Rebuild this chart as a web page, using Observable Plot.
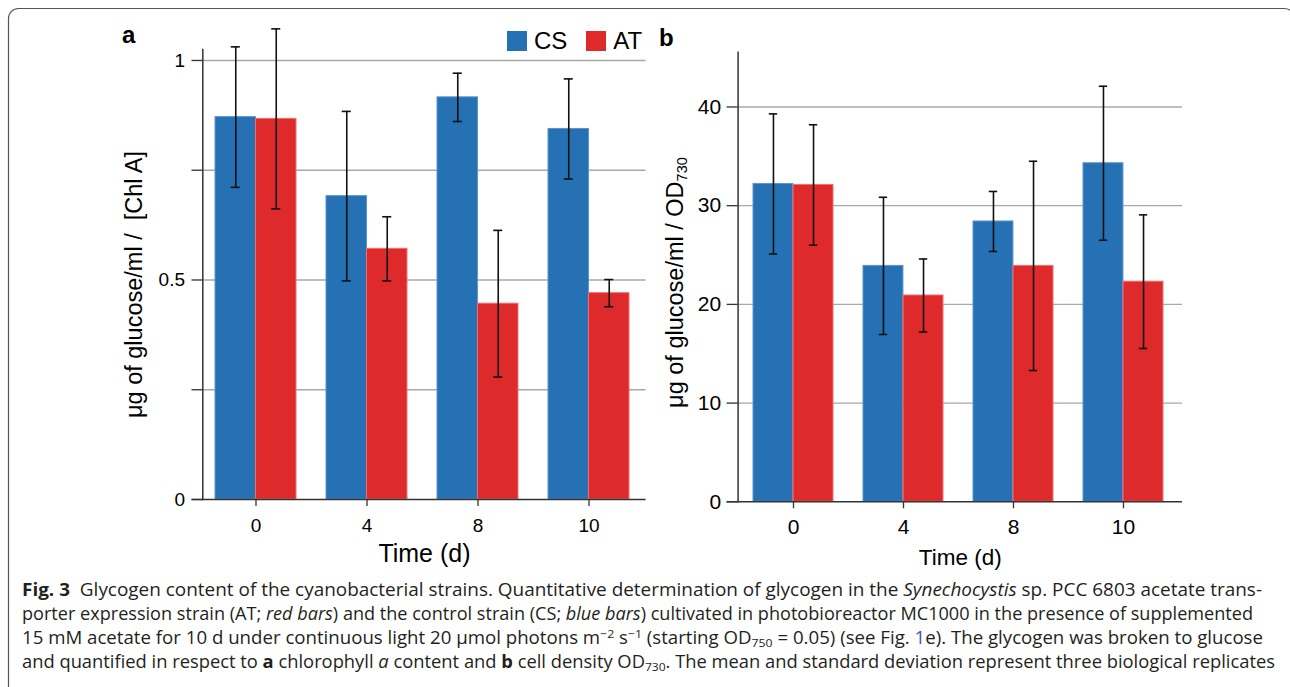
<!DOCTYPE html>
<html><head><meta charset="utf-8">
<script src="https://cdn.jsdelivr.net/npm/d3@7"></script>
<script src="https://cdn.jsdelivr.net/npm/@observablehq/plot@0.6"></script>
<style>
html,body{margin:0;padding:0;background:#fff}
body{width:1290px;height:687px;overflow:hidden;position:relative;font-family:"Liberation Sans",Arial,sans-serif}
.abs{position:absolute}
.lg-swatches{font-family:"Liberation Sans",Arial,sans-serif !important;font-size:24px !important;margin:0 !important;min-height:0 !important;line-height:20px !important;color:#000 !important}
.lg-swatch{margin-right:19px !important}
.lg-swatch > svg{margin-right:7px !important}
</style></head><body>
<div id="pa" class="abs" style="left:0;top:0"></div>
<div id="pb" class="abs" style="left:640px;top:0"></div>
<div id="lg" class="abs" style="left:507px;top:31px"></div>
<svg class="abs" width="1290" height="687" style="left:0;top:0;pointer-events:none">
  <rect x="8.5" y="8.5" width="1286" height="700" rx="10" fill="none" stroke="#555" stroke-width="1.2"/>
  <text x="122" y="43" font-family="Liberation Sans, Arial, sans-serif" font-weight="bold" font-size="24">a</text>
  <text x="659" y="46" font-family="Liberation Sans, Arial, sans-serif" font-weight="bold" font-size="24">b</text>
  <g font-family="Open Sans, Noto Sans, sans-serif" font-size="17.5" fill="#231f20">
    <text x="22" y="596" textLength="1240" lengthAdjust="spacingAndGlyphs"><tspan font-weight="700">Fig. 3</tspan>&#160; Glycogen content of the cyanobacterial strains. Quantitative determination of glycogen in the <tspan font-style="italic">Synechocystis</tspan> sp. PCC 6803 acetate trans-</text>
    <text x="22" y="620" textLength="1231" lengthAdjust="spacingAndGlyphs">porter expression strain (AT; <tspan font-style="italic">red bars</tspan>) and the control strain (CS; <tspan font-style="italic">blue bars</tspan>) cultivated in photobioreactor MC1000 in the presence of supplemented</text>
    <text x="22" y="644" textLength="1241" lengthAdjust="spacingAndGlyphs">15 mM acetate for 10 d under continuous light 20 µmol photons m<tspan baseline-shift="6" font-size="11.5">−2</tspan> s<tspan baseline-shift="6" font-size="11.5">−1</tspan> (starting OD<tspan baseline-shift="-3" font-size="11.5">750</tspan> = 0.05) (see Fig. <tspan fill="#3f51b5">1</tspan>e). The glycogen was broken to glucose</text>
    <text x="22" y="668" textLength="1253" lengthAdjust="spacingAndGlyphs">and quantified in respect to <tspan font-weight="700">a</tspan> chlorophyll <tspan font-style="italic">a</tspan> content and <tspan font-weight="700">b</tspan> cell density OD<tspan baseline-shift="-3" font-size="11.5">730</tspan>. The mean and standard deviation represent three biological replicates</text>
  </g>
</svg>
<script>
// ---- data ----
const times = ["0", "4", "8", "10"];
const series = ["CS", "AT"];
// panel a: µg glucose/ml / [Chl A]
const chlCS = [0.871, 0.691, 0.916, 0.844];
const chlCSsd = [0.160, 0.193, 0.055, 0.114];
const chlAT = [0.867, 0.571, 0.446, 0.470];
const chlATsd = [0.205, 0.073, 0.167, 0.031];
// panel b: µg glucose/ml / OD730
const odCS = [32.2, 23.9, 28.4, 34.3];
const odCSsd = [7.1, 6.95, 3.04, 7.8];
const odAT = [32.1, 20.9, 23.9, 22.3];
const odATsd = [6.1, 3.7, 10.6, 6.77];
const ticksA = [0, 0.25, 0.5, 0.75, 1];
const labelsA = ["0", "", "0.5", "", "1"];
const ticksB = [0, 10, 20, 30, 40];

const blue = "#2571B4", red = "#DE2A2A";

function panel(o) {
  const rows = times.flatMap((t, i) => [
    {t, s: "CS", v: o.cs[i], sd: o.csSd[i]},
    {t, s: "AT", v: o.at[i], sd: o.atSd[i]}
  ]);
  const xOpt = {type: "band", domain: times, range: o.xRange, paddingInner: o.pIn, paddingOuter: o.pOut};
  const bw = Plot.scale({x: xOpt}).bandwidth;
  const q = bw / 4, h = bw / 2, c = o.capW / 2;
  const CS = rows.filter(d => d.s === "CS"), AT = rows.filter(d => d.s === "AT");
  const lo = d => d.v - d.sd, hi = d => d.v + d.sd;
  const err = {stroke: "#111", strokeWidth: 1.6};
  return Plot.plot({
    width: o.width, height: o.height,
    marginLeft: o.mL, marginRight: o.mR, marginTop: o.mT, marginBottom: o.mB,
    x: {...xOpt, axis: null},
    y: {domain: [0, o.yMax], axis: null},
    style: {fontFamily: "Liberation Sans, Arial, sans-serif", color: "#000", background: "transparent", overflow: "visible"},
    marks: [
      Plot.gridY(o.grid, {stroke: "#a8a8a8", strokeOpacity: 1, strokeWidth: 1.3}),
      Plot.barY(CS, {x: "t", y: "v", fill: blue, stroke: "#5b95cf", strokeWidth: 1, insetRight: h}),
      Plot.barY(AT, {x: "t", y: "v", fill: red, stroke: "#ef7070", strokeWidth: 1, insetLeft: h}),
      Plot.ruleX(CS, {x: "t", y1: lo, y2: hi, dx: -q, ...err}),
      Plot.ruleX(AT, {x: "t", y1: lo, y2: hi, dx: q, ...err}),
      Plot.tickY(CS, {x: "t", y: hi, insetLeft: q - c, insetRight: bw - q - c, ...err}),
      Plot.tickY(CS, {x: "t", y: lo, insetLeft: q - c, insetRight: bw - q - c, ...err}),
      Plot.tickY(AT, {x: "t", y: hi, insetLeft: 3 * q - c, insetRight: q - c, ...err}),
      Plot.tickY(AT, {x: "t", y: lo, insetLeft: 3 * q - c, insetRight: q - c, ...err}),
      Plot.frame({anchor: "left", stroke: "#333", strokeWidth: 1.5}),
      Plot.ruleY([0], {stroke: "#333", strokeWidth: 1.5, insetLeft: -o.tick}),
      Plot.axisY(o.ticks, {tickSize: o.tick, tickPadding: o.yPad, tickFormat: o.fmt, fontSize: o.tickFont, stroke: "#333", strokeWidth: 1.3, label: null}),
      Plot.axisX({tickSize: 7, tickPadding: o.xPad, fontSize: o.tickFont, stroke: "#333", strokeWidth: 1.3, label: null}),
      Plot.text([o.xLabel], {text: d => d, frameAnchor: "bottom", textAnchor: "middle", lineAnchor: "middle", dy: o.xLabDy, fontSize: o.xLabFont}),
      Plot.text([o.yLabel], {text: d => d, frameAnchor: "left", textAnchor: "middle", lineAnchor: "middle", dx: o.yLabDx, dy: o.yLabDy, rotate: -90, fontSize: o.yLabFont})
    ]
  });
}

const pa = panel({
  cs: chlCS, csSd: chlCSsd, at: chlAT, atSd: chlATsd,
  width: 660, height: 565, mL: 202.3, mR: 14.4, mT: 49, mB: 66,
  xRange: [199.5, 644.6], pIn: 0.272, pOut: 0.138, yMax: 1.025,
  grid: [0.25, 0.5, 0.75, 1], ticks: ticksA, fmt: d => labelsA[ticksA.indexOf(d)],
  tickFont: 19, tick: 10.8, yPad: 7, xPad: 12, capW: 9,
  xLabel: "Time (d)", xLabDy: 54, xLabFont: 25,
  yLabel: "μg of glucose/ml /\u00a0 [Chl A]", yLabDx: -68, yLabDy: 10, yLabFont: 23.5
});
document.getElementById("pa").appendChild(pa);

const pb = panel({
  cs: odCS, csSd: odCSsd, at: odAT, atSd: odATsd,
  width: 560, height: 565, mL: 97.6, mR: 18, mT: 51.7, mB: 63.7,
  xRange: [95.5, 540.2], pIn: 0.277, pOut: 0.145, yMax: 45.55,
  grid: [10, 20, 30, 40], ticks: ticksB, fmt: d => String(d),
  tickFont: 21, tick: 11, yPad: 6, xPad: 10, capW: 8.5,
  xLabel: "Time (d)", xLabDy: 55.7, xLabFont: 22.5,
  yLabel: "μg of glucose/ml / OD730", yLabDx: -63, yLabDy: 5.5, yLabFont: 23.5
});
document.getElementById("pb").appendChild(pb);
d3.select(pb).selectAll("text").filter(function() { return this.textContent === "μg of glucose/ml / OD730"; })
  .each(function() {
    const t = d3.select(this);
    t.text("μg of glucose/ml / OD");
    t.append("tspan").attr("font-size", "0.62em").attr("dy", "0.3em").text("730");
  });

const lg = Plot.legend({color: {domain: series, range: [blue, red]}, swatchSize: 20, className: "lg"});
document.getElementById("lg").appendChild(lg);
</script>
</body></html>
